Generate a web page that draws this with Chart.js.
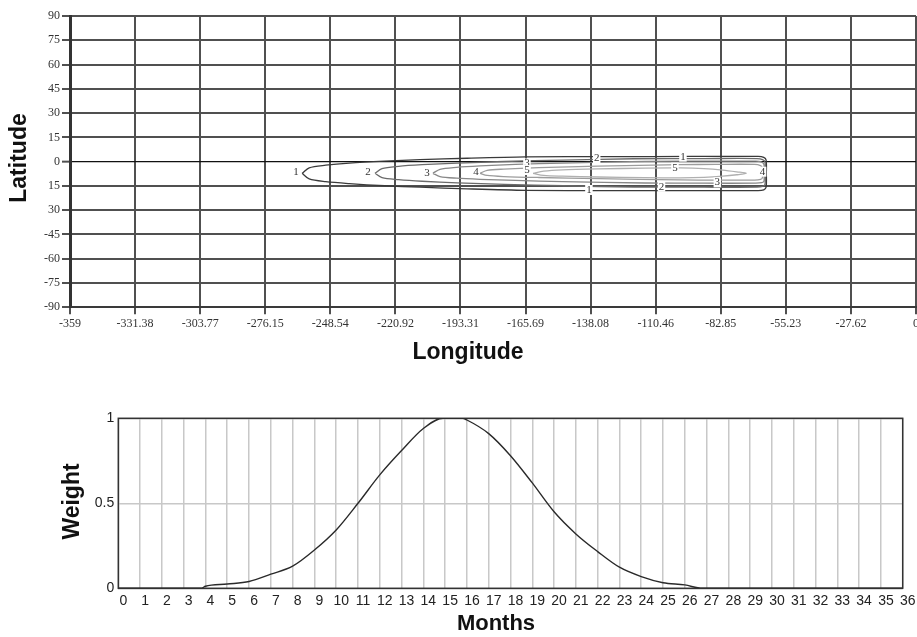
<!DOCTYPE html>
<html>
<head>
<meta charset="utf-8">
<script src="https://cdn.jsdelivr.net/npm/chart.js@4.4.1/dist/chart.umd.min.js"></script>
<style>
  html, body { margin: 0; padding: 0; background: #fff; }
  #wrap { position: relative; width: 917px; height: 637px; overflow: hidden; background: #fff; }
  #map { position: absolute; left: 0; top: 0; }
  #weight { position: absolute; left: 0; top: 380px; }
</style>
</head>
<body>
<div id="wrap">
  <canvas id="map" width="917" height="367"></canvas>
  <canvas id="weight" width="917" height="258"></canvas>
</div>
<script>
// ---- Map axes ----
const lonTicks = [-359, -331.38, -303.77, -276.15, -248.54, -220.92, -193.31, -165.69, -138.08, -110.46, -82.85, -55.23, -27.62, 0];
const latTicks = [90, 75, 60, 45, 30, 15, 0, -15, -30, -45, -60, -75, -90];
const latLabels = ['90', '75', '60', '45', '30', '15', '0', '15', '30', '-45', '-60', '-75', '-90'];

// ---- Contour lines (closed loops, longitude / latitude) ----
const level1Lon = [-260.5, -257.5, -250.5, -240.5, -225.5, -210.5, -190.5, -165.5, -130, -95, -67, -64.6, -63.6, -63.5, -63.6, -64.6, -67, -95, -130, -165.5, -190.5, -210.5, -225.5, -240.5, -250.5, -257.5, -260.5];
const level1Lat = [-7.2, -3.8, -2.2, -0.9, 0.3, 1.2, 2.1, 2.9, 3.1, 3.2, 3.2, 2.6, 1.0, -7.2, -15.8, -17.4, -17.9, -17.9, -17.9, -17.7, -16.8, -15.8, -14.9, -13.6, -12.4, -10.7, -7.2];

const level2Lon = [-229.6, -226.6, -219.6, -209.6, -194.6, -174.6, -149.6, -119.6, -90, -67.5, -65.1, -64.1, -64.0, -64.1, -65.1, -67.5, -90, -119.6, -149.6, -174.6, -194.6, -209.6, -219.6, -226.6, -229.6];
const level2Lat = [-7.2, -4.3, -2.9, -1.9, -0.9, 0.1, 1.0, 1.8, 1.9, 1.9, 1.3, -0.2, -7.2, -14.2, -15.3, -15.8, -15.8, -15.7, -14.9, -14.0, -13.1, -12.1, -11.1, -9.9, -7.2];

const level3Lon = [-205, -202, -195, -185, -170, -150, -115, -90, -68, -65.5, -64.5, -64.5, -64.5, -65.5, -68, -90, -115, -150, -170, -185, -195, -202, -205];
const level3Lat = [-7.2, -4.7, -3.5, -2.6, -1.7, -0.9, 0.2, 0.3, 0.3, -0.3, -1.8, -7.2, -12.0, -13.0, -13.3, -13.3, -13.2, -12.3, -11.6, -10.9, -10.2, -9.2, -7.2];

const level4Lon = [-185, -182, -175, -160, -135, -100, -85, -68.5, -66, -65.2, -65.2, -65.2, -66, -68.5, -85, -100, -135, -160, -175, -182, -185];
const level4Lat = [-7.2, -5.4, -4.6, -3.7, -2.8, -1.9, -1.7, -1.7, -2.4, -3.8, -7.2, -10.0, -11.0, -11.4, -11.4, -11.3, -10.5, -9.8, -9.2, -8.5, -7.2];

const level5Lon = [-162.5, -158, -150, -135, -115, -100, -90, -82, -76, -72, -76, -82, -90, -100, -115, -135, -150, -158, -162.5];
const level5Lat = [-7.2, -5.9, -5.1, -4.5, -4.0, -3.9, -4.3, -5.2, -6.3, -7.2, -8.1, -9.0, -9.7, -10.0, -9.9, -9.5, -9.0, -8.5, -7.2];

// ---- Contour value labels ----
const labelText = ['1', '1', '1', '2', '2', '2', '3', '3', '3', '4', '4', '5', '5'];
const labelLon  = [-263.1, -98.9, -138.8, -232.5, -135.5, -108.0, -207.5, -165.1, -84.3, -186.7, -65.1, -165.1, -102.3];
const labelLat  = [-6.7, 3.1, -17.5, -6.7, 2.1, -15.5, -7.3, -1.1, -12.8, -6.7, -6.2, -5.2, -3.7];

// ---- Monthly weight curve ----
const monthX  = [0, 1, 2, 3, 3.8, 4, 5, 6, 7, 8, 9, 10, 11, 12, 13, 14, 14.9, 15.8, 16, 17, 18, 19, 20, 21, 22, 23, 24, 25, 26, 26.8, 27, 28, 29, 30, 31, 32, 33, 34, 35, 36];
const weightY = [0, 0, 0, 0, 0, 0.012, 0.025, 0.04, 0.083, 0.13, 0.225, 0.343, 0.5, 0.667, 0.81, 0.94, 1, 1, 0.99, 0.91, 0.78, 0.62, 0.45, 0.32, 0.216, 0.124, 0.069, 0.033, 0.02, 0, 0, 0, 0, 0, 0, 0, 0, 0, 0, 0];
const weightTicks = [0, 0.5, 1];
const weightLabels = ['0', '0.5', '1'];

const toPoints = (xs, ys) => xs.map((x, i) => ({ x: x, y: ys[i] }));

const contourStyle = [
  { lon: level1Lon, lat: level1Lat, color: '#3a3a3a' },
  { lon: level2Lon, lat: level2Lat, color: '#6a6a6a' },
  { lon: level3Lon, lat: level3Lat, color: '#888888' },
  { lon: level4Lon, lat: level4Lat, color: '#9c9c9c' },
  { lon: level5Lon, lat: level5Lat, color: '#b0b0b0' }
];

// axis titles drawn at fixed offsets around the plot area
function titlePlugin(id, items) {
  return {
    id: id,
    afterDraw(chart) {
      const ctx = chart.ctx;
      ctx.save();
      ctx.fillStyle = '#111';
      ctx.textAlign = 'center';
      ctx.textBaseline = 'middle';
      items.forEach(t => {
        ctx.font = t.font;
        ctx.save();
        ctx.translate(t.x, t.y);
        if (t.rotate) ctx.rotate(-Math.PI / 2);
        ctx.fillText(t.text, 0, 0);
        ctx.restore();
      });
      ctx.restore();
    }
  };
}

const contourLabelPlugin = {
  id: 'contourLabels',
  afterDatasetsDraw(chart) {
    const ctx = chart.ctx;
    const xs = chart.scales.x, ys = chart.scales.y;
    ctx.save();
    ctx.font = '11px "Liberation Serif"';
    ctx.textAlign = 'center';
    ctx.textBaseline = 'middle';
    labelText.forEach((t, i) => {
      const px = xs.getPixelForValue(labelLon[i]);
      const py = ys.getPixelForValue(labelLat[i]);
      const w = ctx.measureText(t).width + 2;
      ctx.fillStyle = '#fff';
      ctx.fillRect(px - w / 2, py - 5, w, 10);
      ctx.fillStyle = '#333';
      ctx.fillText(t, px, py);
    });
    ctx.restore();
  }
};

new Chart(document.getElementById('map'), {
  type: 'scatter',
  data: {
    datasets: contourStyle.map((c, i) => ({
      label: 'Level ' + (i + 1),
      data: toPoints(c.lon, c.lat),
      showLine: true,
      borderColor: c.color,
      borderWidth: 1.3,
      pointRadius: 0,
      tension: 0.3,
      fill: false
    }))
  },
  options: {
    responsive: false,
    animation: false,
    events: [],
    layout: { padding: { top: 16, right: 1, left: 0, bottom: 0 } },
    plugins: { legend: { display: false }, tooltip: { enabled: false } },
    scales: {
      x: {
        type: 'linear',
        min: -359, max: 0,
        afterBuildTicks: s => { s.ticks = lonTicks.map(v => ({ value: v })); },
        afterFit: s => { s.height = 59.7; s.paddingLeft = 0; s.paddingRight = 0; },
        ticks: {
          autoSkip: false, maxRotation: 0, padding: 2,
          color: '#333',
          font: { family: 'Liberation Serif', size: 12 },
          callback: (v, i) => String(lonTicks[i])
        },
        grid: { color: '#505050', lineWidth: 2, tickLength: 7, tickColor: '#505050', tickWidth: 2 },
        border: { color: '#3a3a3a', width: 2 }
      },
      y: {
        type: 'linear',
        min: -90, max: 90,
        afterBuildTicks: s => { s.ticks = latTicks.map(v => ({ value: v })); },
        afterFit: s => { s.width = 70; s.paddingTop = 0; s.paddingBottom = 0; },
        ticks: {
          autoSkip: false, padding: 2,
          color: '#333',
          font: { family: 'Liberation Serif', size: 12 },
          callback: (v, i) => latLabels[i]
        },
        grid: {
          color: c => (c.tick && c.tick.value === 0) ? '#111' : '#505050',
          lineWidth: c => (c.tick && c.tick.value === 0) ? 1.3 : 2,
          tickLength: 8, tickColor: '#505050', tickWidth: 2
        },
        border: { color: '#333', width: 3 }
      }
    }
  },
  plugins: [contourLabelPlugin, titlePlugin('mapTitles', [
    { text: 'Longitude', x: 468, y: 353, font: 'bold 23px "Liberation Sans"' },
    { text: 'Latitude', x: 20, y: 158, font: 'bold 23px "Liberation Sans"', rotate: true }
  ])]
});

const framePlugin = {
  id: 'frame',
  beforeDatasetsDraw(chart) {
    const a = chart.chartArea, ctx = chart.ctx;
    ctx.save();
    ctx.strokeStyle = '#333';
    ctx.lineWidth = 1.5;
    ctx.strokeRect(a.left, a.top, a.right - a.left, a.bottom - a.top);
    ctx.restore();
  }
};

new Chart(document.getElementById('weight'), {
  type: 'scatter',
  data: {
    datasets: [{
      label: 'Weight',
      data: toPoints(monthX, weightY),
      showLine: true,
      borderColor: '#2a2a2a',
      borderWidth: 1.4,
      pointRadius: 0,
      cubicInterpolationMode: 'monotone',
      fill: false
    }]
  },
  options: {
    responsive: false,
    animation: false,
    events: [],
    layout: { padding: { top: 38.3, right: 14.3, left: 0, bottom: 0 } },
    plugins: { legend: { display: false }, tooltip: { enabled: false } },
    scales: {
      x: {
        type: 'linear',
        min: 0, max: 36,
        afterFit: s => { s.height = 49.7; s.paddingLeft = 0; s.paddingRight = 0; },
        ticks: {
          stepSize: 1, autoSkip: false, maxRotation: 0, padding: 4, labelOffset: 5,
          color: '#222',
          font: { family: 'Liberation Sans', size: 14 }
        },
        grid: { color: '#c8c8c8', lineWidth: 1.5, drawTicks: false },
        border: { display: false }
      },
      y: {
        type: 'linear',
        min: 0, max: 1,
        afterBuildTicks: s => { s.ticks = weightTicks.map(v => ({ value: v })); },
        afterFit: s => { s.width = 118.3; s.paddingTop = 0; s.paddingBottom = 0; },
        ticks: {
          autoSkip: false, padding: 4,
          color: '#222',
          font: { family: 'Liberation Sans', size: 14 },
          callback: (v, i) => weightLabels[i]
        },
        grid: { color: '#c8c8c8', lineWidth: 1.5, drawTicks: false },
        border: { display: false }
      }
    }
  },
  plugins: [framePlugin, titlePlugin('weightTitles', [
    { text: 'Months', x: 496, y: 244, font: 'bold 22px "Liberation Sans"' },
    { text: 'Weight', x: 72.5, y: 121.5, font: 'bold 23px "Liberation Sans"', rotate: true }
  ])]
});
</script>
</body>
</html>
